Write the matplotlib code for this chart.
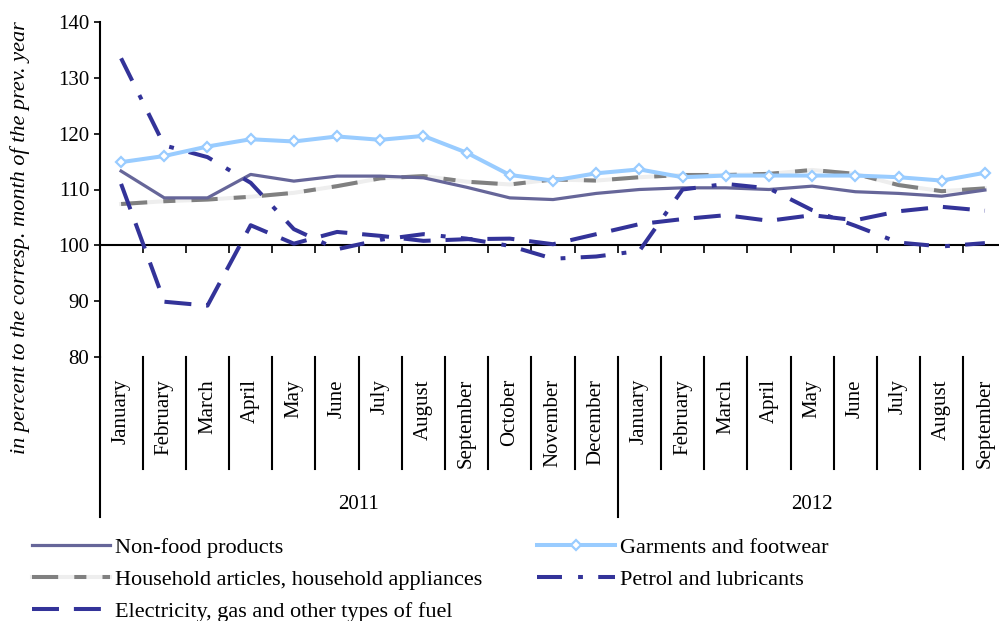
import matplotlib
matplotlib.use("Agg")
import matplotlib.pyplot as plt
import numpy as np
from matplotlib.legend_handler import HandlerTuple

plt.rcParams['font.family'] = ['Liberation Serif', 'DejaVu Serif']

months = ['January', 'February', 'March', 'April', 'May', 'June', 'July', 'August',
          'September', 'October', 'November', 'December',
          'January', 'February', 'March', 'April', 'May', 'June', 'July', 'August',
          'September']
years = ['2011', '2012']
year_len = [12, 9]

non_food = [113.3, 108.5, 108.5, 112.7, 111.5, 112.4, 112.4, 112.1, 110.4, 108.5, 108.2,
            109.3, 110.0, 110.3, 110.3, 110.0, 110.6, 109.6, 109.3, 108.8, 109.9]
garments = [114.9, 116.0, 117.7, 119.0, 118.6, 119.5, 118.9, 119.6, 116.6, 112.6, 111.6,
            112.9, 113.6, 112.2, 112.5, 112.5, 112.5, 112.5, 112.2, 111.6, 113.0]
household = [107.4, 107.9, 108.2, 108.7, 109.4, 110.6, 112.0, 112.4, 111.4, 110.9, 111.8,
             111.6, 112.2, 112.6, 112.6, 112.8, 113.5, 112.8, 110.8, 109.7, 110.2]
petrol = [133.5, 117.9, 115.8, 111.2, 102.9, 99.3, 101.0, 102.0, 101.2, 99.9, 97.6,
          98.0, 99.0, 110.0, 111.0, 110.2, 106.3, 103.5, 100.5, 99.8, 100.4]
electricity = [111.0, 89.9, 89.2, 103.6, 100.3, 102.4, 101.7, 100.8, 101.1, 101.2, 100.2,
               102.0, 103.8, 104.7, 105.4, 104.4, 105.4, 104.5, 106.1, 106.9, 106.2]

n = len(months)
x = np.arange(n) + 0.5
fs = 15

fig = plt.figure(figsize=(9.99, 6.21), dpi=100)
# plot area: x 99.5..1006.5 px (cropped on the right), y 22..357 px
ax = fig.add_axes([99.5/999, 264/621, 907/999, 335/621])

l_nf, = ax.plot(x, non_food, color='#666699', lw=2.3, zorder=3)
l_hh_bg, = ax.plot(x, household, color='#eeeeee', lw=2.9, zorder=2)
l_hh, = ax.plot(x, household, color='#808080', lw=2.9, ls=(0, (6.5, 4, 3, 4)), zorder=2.5)
l_el, = ax.plot(x, electricity, color='#333399', lw=2.9, ls=(0, (6.7, 3.7)), zorder=4)
l_pe, = ax.plot(x, petrol, color='#333399', lw=2.9, ls=(0, (6.2, 4.0, 1.2, 3.8)), zorder=4)
l_ga, = ax.plot(x, garments, color='#99ccff', lw=2.9, marker='D', ms=4.8,
                mfc='white', mec='#99ccff', mew=1.6, zorder=5)

ax.set_xlim(0, n)
ax.set_ylim(80, 140)
ax.set_yticks(np.arange(80, 141, 10))
ax.set_xticks(np.arange(0, n + 1))
ax.set_xticklabels([])
for s in ['top', 'right']:
    ax.spines[s].set_visible(False)
ax.spines['bottom'].set_position(('data', 100))
ax.spines['bottom'].set_linewidth(1.5)
ax.spines['left'].set_linewidth(1.5)
ax.tick_params(axis='y', direction='out', length=4.3, width=1.2, pad=3, labelsize=fs)
ax.tick_params(axis='x', direction='out', length=6, width=1.2)
ax.patch.set_alpha(0)

# category area below the plot
tr = ax.get_xaxis_transform()
ax.plot([0, 0], [0, -0.478], transform=tr, color='black', lw=1.5, clip_on=False)
for i in range(1, n + 1):
    bottom = -0.478 if i == year_len[0] else -0.334
    ax.plot([i, i], [0, bottom], transform=tr, color='black', lw=1.5, clip_on=False)
for i, m in enumerate(months):
    ax.text(i + 0.5, -0.066, m, transform=tr, rotation=90, ha='center', va='top', fontsize=fs)
start = 0
for yr, ln in zip(years, year_len):
    ax.text(start + ln / 2, -0.439, yr, transform=tr, ha='center', va='center', fontsize=fs)
    start += ln

fig.text(20/999, 1 - 238/621, 'in percent to the corresp. month of the prev. year',
         rotation=90, style='italic', ha='center', va='center', fontsize=16)

fig.legend([l_nf, (l_hh_bg, l_hh), l_el, l_ga, l_pe],
           ['Non-food products', 'Household articles, household appliances',
            'Electricity, gas and other types of fuel', 'Garments and footwear',
            'Petrol and lubricants'],
           handler_map={tuple: HandlerTuple(ndivide=1, pad=0)},
           ncol=2, loc='upper left', bbox_to_anchor=(32/999, 1 - 537/621),
           frameon=False, fontsize=16, handlelength=3.5, handletextpad=0.22,
           columnspacing=2.5, labelspacing=0.53, borderpad=0, borderaxespad=0)

fig.savefig('out.png', dpi=100)
